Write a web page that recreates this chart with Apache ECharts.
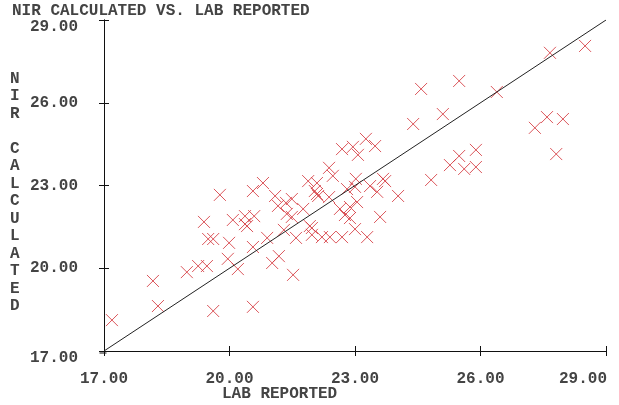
<!DOCTYPE html>
<html><head><meta charset="utf-8">
<script src="https://cdn.jsdelivr.net/npm/echarts@6/dist/echarts.min.js"></script>
<style>html,body{margin:0;padding:0;background:#fff}#c{width:619px;height:405px}</style>
</head><body><div id="c"></div>
<script>
const titleText = 'NIR CALCULATED VS. LAB REPORTED';
const xName = 'LAB REPORTED';
const yName = 'NIR CALCULATED';
const tickValues = [17, 20, 23, 26, 29];
const labReported = [17.19,18.17,18.29,18.98,19.25,19.46,19.39,19.49,19.61,19.61,19.77,19.99,19.96,20.08,20.20,20.37,20.37,20.42,20.59,20.56,20.56,20.56,20.80,21.09,20.90,21.02,21.18,21.16,21.35,21.49,21.37,21.49,21.59,21.30,21.52,
 22.69,22.95,23.26,23.48,23.07,22.38,22.47,21.88,22.09,23.02,23.67,23.72,23.36,23.53,23.00,22.81,22.04,22.09,22.12,22.38,21.76,22.64,23.05,22.88,22.76,22.88,23.60,24.03,21.92,21.97,21.97,22.21,22.40,22.69,23.00,23.29,
 24.58,25.49,26.39,25.10,24.39,27.66,28.50,27.30,27.59,27.97,27.81,24.82,25.27,25.49,25.61,25.89,25.89];
const nirCalculated = [18.12,19.54,18.63,19.86,20.08,20.08,21.68,21.06,21.06,18.45,22.66,20.92,20.34,21.75,19.97,21.89,21.60,21.53,21.89,20.77,18.60,22.80,23.09,22.62,21.10,20.19,20.44,22.26,22.37,22.51,21.97,21.86,21.10,21.39,19.76,
 24.32,24.40,24.69,24.43,24.11,23.64,23.35,23.16,23.09,23.24,23.24,23.16,22.98,22.77,22.95,22.87,22.80,22.69,22.62,22.58,22.15,22.15,22.40,22.22,21.93,21.82,21.86,22.62,21.53,21.46,21.21,21.13,21.13,21.13,21.42,21.13,
 26.50,26.79,26.39,25.59,25.23,27.81,28.06,25.09,25.48,25.41,24.14,23.20,23.74,24.07,23.60,24.29,23.67];
const identityLine = [[17,17],[29,29]];

const FONT = 'Liberation Mono';
const TXT = '#444';
const AX = '#111';
const minV = tickValues[0], maxV = tickValues[tickValues.length-1];
const step = tickValues[1]-tickValues[0];

function mkAxis(kind, primary) {
  const a = {
    type: 'value', min: minV, max: maxV, interval: step,
    position: kind === 'x' ? 'bottom' : 'left',
    axisLine: {show: true, onZero: false, lineStyle: {color: AX, width: 1}},
    axisTick: {show: true, inside: !primary, length: 5, lineStyle: {color: AX, width: 1}},
    splitLine: {show: false},
    axisLabel: {show: false}
  };
  if (primary) {
    if (kind === 'x') {
      a.axisLabel = {show: true, margin: 20, fontFamily: FONT, fontWeight: 'bold', fontSize: 16, color: TXT,
        formatter: v => v === maxV ? '{e|' + v.toFixed(2) + '}' : v.toFixed(2),
        rich: {e: {fontFamily: FONT, fontWeight: 'bold', fontSize: 16, color: TXT, padding: [0, 46, 0, 0]}}};
    } else {
      a.axisLabel = {show: true, margin: 26, fontFamily: FONT, fontWeight: 'bold', fontSize: 16, color: TXT,
        formatter: v => v === maxV ? '{t|' + v.toFixed(2) + '}' : (v === minV ? '{b|' + v.toFixed(2) + '}' : v.toFixed(2)),
        rich: {
          t: {fontFamily: FONT, fontWeight: 'bold', fontSize: 16, color: TXT, padding: [14, 0, 0, 0]},
          b: {fontFamily: FONT, fontWeight: 'bold', fontSize: 16, color: TXT, padding: [14, 0, 0, 0]}
        }};
    }
  }
  return a;
}

const chart = echarts.init(document.getElementById('c'), null, {renderer: 'canvas'});
chart.setOption({
  animation: false,
  backgroundColor: '#fff',
  grid: {left: 104, right: 13, top: 20, bottom: 54, containLabel: false},
  xAxis: [mkAxis('x', true), mkAxis('x', false)],
  yAxis: [mkAxis('y', true), mkAxis('y', false)],
  graphic: [
    {type: 'text', left: 12, top: 3, style: {text: titleText, font: 'bold 16px "' + FONT + '"', fill: TXT}},
    {type: 'text', left: 222, top: 386, style: {text: xName, font: 'bold 16px "' + FONT + '"', fill: TXT}},
    {type: 'text', left: 10, top: 70, style: {text: yName.split('').join('\n'), font: 'bold 16px "' + FONT + '"', fill: TXT, lineHeight: 17.5, align: 'left'}},
    {type: 'line', left: 97, top: 350.5, shape: {x1: 0, y1: 0, x2: 7, y2: 0}, style: {stroke: AX, lineWidth: 1}}
  ],
  series: [
    {type: 'line', xAxisIndex: 0, yAxisIndex: 0, data: identityLine, symbol: 'none', silent: true,
     lineStyle: {color: '#222', width: 1}},
    {type: 'scatter', xAxisIndex: 0, yAxisIndex: 0,
     data: labReported.map((x, i) => [x, nirCalculated[i]]),
     symbol: 'path://M0,0L10,10M10,0L0,10', symbolSize: 12,
     itemStyle: {color: 'none', borderColor: '#d5383e', borderWidth: 1, opacity: 0.85}}
  ]
});
</script></body></html>
